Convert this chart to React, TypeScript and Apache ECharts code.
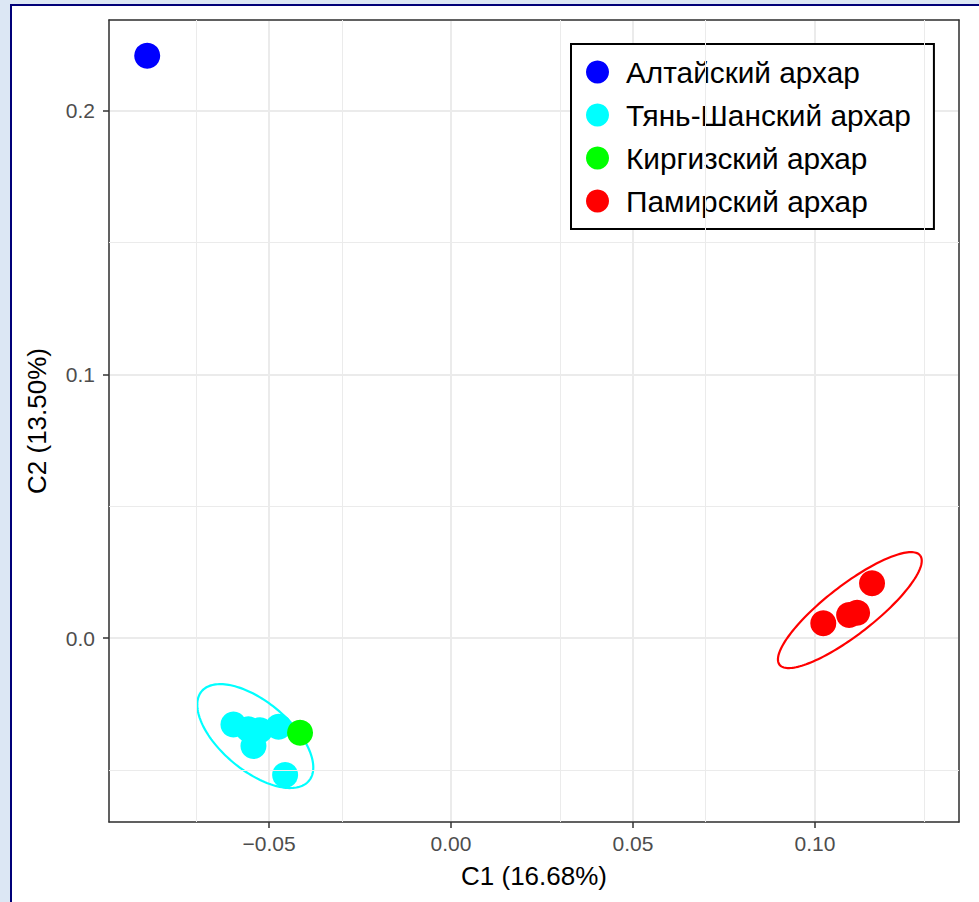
import React, { useEffect, useRef } from "react";
import * as echarts from "echarts";

// ---- data ----
const groupNames = ["Алтайский архар", "Тянь-Шанский архар", "Киргизский архар", "Памирский архар"];
const groupColors = ["#0000FF", "#00FFFF", "#00FF00", "#FF0000"];

const altaiX = [-0.0835];
const altaiY = [0.2209];
const tienShanX = [-0.0598, -0.0557, -0.0525, -0.0474, -0.0543, -0.0456];
const tienShanY = [-0.0328, -0.0346, -0.035, -0.0337, -0.041, -0.052];
const kyrgyzX = [-0.0415];
const kyrgyzY = [-0.0359];
const pamirX = [0.1023, 0.1094, 0.1116, 0.1157];
const pamirY = [0.0056, 0.0087, 0.0096, 0.0208];

// confidence ellipses: centre and two conjugate semi-axis vectors (data units)
const ellipseColors = ["#00FFFF", "#FF0000"];
const ellipseCenterX = [-0.0538, 0.1096];
const ellipseCenterY = [-0.0372, 0.0106];
const ellipseAxisA = [[0.01475, -0.01697], [0.01932, 0.02072]];
const ellipseAxisB = [[0.00605, 0.01003], [-0.00414, 0.00738]];

const xMin = -0.094;
const xMax = 0.1396;
const yMin = -0.0698;
const yMax = 0.2345;
const minorGridX = [-0.075, -0.025, 0.025, 0.075, 0.125];
const minorGridY = [-0.05, 0.05, 0.15];

const xName = "C1 (16.68%)";
const yName = "C2 (13.50%)";

const zip = (xs: number[], ys: number[]) => xs.map((x, i) => [x, ys[i]]);
const groupData = [zip(altaiX, altaiY), zip(tienShanX, tienShanY), zip(kyrgyzX, kyrgyzY), zip(pamirX, pamirY)];

const FONT = "'Liberation Sans', Arial, Helvetica, sans-serif";
const BORDER = "#333333";

function buildOption(): any {
  const axisCommon = {
    type: "value",
    axisLine: { show: true, onZero: false, lineStyle: { color: BORDER, width: 1.5 } },
    axisTick: { show: true, length: 6, lineStyle: { color: BORDER, width: 1.5 } },
    axisLabel: {
      color: "#4D4D4D",
      fontSize: 21,
      fontFamily: FONT,
      showMinLabel: false,
      showMaxLabel: false,
    },
    splitLine: { show: true, lineStyle: { color: "#EBEBEB", width: 2 } },
    nameTextStyle: { color: "#000000", fontSize: 26, fontFamily: FONT },
    nameLocation: "middle",
  };
  const frameAxis = {
    type: "value",
    axisLine: { show: true, onZero: false, lineStyle: { color: BORDER, width: 1.5 } },
    axisTick: { show: false },
    axisLabel: { show: false },
    splitLine: { show: false },
  };
  return {
    animation: false,
    backgroundColor: "transparent",
    textStyle: { fontFamily: FONT },
    grid: {
      left: 109,
      top: 20,
      width: 850,
      height: 802,
    },
    xAxis: [
      {
        ...axisCommon,
        min: xMin,
        max: xMax,
        splitNumber: 5,
        name: xName,
        nameGap: 41,
        position: "bottom",
        axisLabel: {
          ...axisCommon.axisLabel,
          margin: 11,
          formatter: (v: number) => v.toFixed(2).replace("-", "\u2212"),
        },
      },
      { ...frameAxis, min: xMin, max: xMax, position: "top" },
    ],
    yAxis: [
      {
        ...axisCommon,
        min: yMin,
        max: yMax,
        splitNumber: 3,
        name: yName,
        nameGap: 59,
        position: "left",
        axisLabel: {
          ...axisCommon.axisLabel,
          margin: 14,
          formatter: (v: number) => v.toFixed(1),
        },
      },
      { ...frameAxis, min: yMin, max: yMax, position: "right" },
    ],
    legend: {
      orient: "vertical",
      left: 571,
      top: 44,
      data: groupNames,
      icon: "circle",
      itemWidth: 23,
      itemHeight: 23,
      itemGap: 13,
      padding: [13, 23, 13, 15],
      borderColor: "#000000",
      borderWidth: 2,
      backgroundColor: "#FFFFFF",
      textStyle: {
        fontSize: 29.8,
        lineHeight: 29,
        color: "#000000",
        fontFamily: FONT,
        padding: [0, 0, 0, 12],
      },
    },
    series: [
      {
        type: "scatter",
        name: "minor-grid",
        data: [],
        silent: true,
        z: 0,
        markLine: {
          silent: true,
          symbol: "none",
          label: { show: false },
          lineStyle: { color: "#EBEBEB", width: 1, type: "solid" },
          emphasis: { disabled: true },
          data: [
            ...minorGridX.map((v) => ({ xAxis: v })),
            ...minorGridY.map((v) => ({ yAxis: v })),
          ],
        },
      },
      {
        type: "custom",
        name: "ellipses",
        silent: true,
        z: 1,
        data: ellipseCenterX.map((cx, i) => [cx, ellipseCenterY[i], i]),
        encode: { x: 0, y: 1 },
        renderItem: (params: any, api: any) => {
          const i = params.dataIndex;
          const cx = ellipseCenterX[i];
          const cy = ellipseCenterY[i];
          const a = ellipseAxisA[i];
          const b = ellipseAxisB[i];
          const pts: number[][] = [];
          const n = 160;
          for (let k = 0; k <= n; k++) {
            const t = (2 * Math.PI * k) / n;
            const c = Math.cos(t);
            const s = Math.sin(t);
            pts.push(api.coord([cx + a[0] * c + b[0] * s, cy + a[1] * c + b[1] * s]));
          }
          return {
            type: "polyline",
            shape: { points: pts },
            style: { stroke: ellipseColors[i], fill: "none", lineWidth: 2.2 },
          };
        },
      },
      ...groupNames.map((name, i) => ({
        type: "scatter",
        name,
        data: groupData[i],
        symbol: "circle",
        symbolSize: 26,
        itemStyle: { color: groupColors[i], opacity: 1 },
        z: 2,
      })),
    ],
  };
}

export default function App() {
  const ref = useRef<HTMLDivElement>(null);
  useEffect(() => {
    if (!ref.current) return;
    const chart = echarts.init(ref.current, null, { renderer: "svg" });
    chart.setOption(buildOption());
    return () => chart.dispose();
  }, []);
  return (
    <div
      style={{
        position: "fixed",
        left: 0,
        top: 0,
        width: 979,
        height: 902,
        background: "#DCE7F4",
        overflow: "hidden",
      }}
    >
      <div
        style={{
          position: "absolute",
          left: 10,
          top: 4,
          width: 1000,
          height: 1000,
          background: "#FFFFFF",
          borderLeft: "2px solid #000078",
          borderTop: "2px solid #000078",
        }}
      />
      <div ref={ref} style={{ position: "absolute", left: 0, top: 0, width: 979, height: 902 }} />
    </div>
  );
}
